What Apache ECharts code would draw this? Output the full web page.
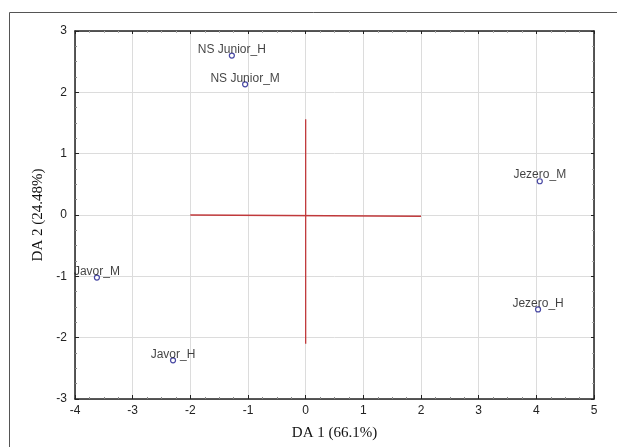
<!DOCTYPE html>
<html>
<head>
<meta charset="utf-8">
<script src="https://cdn.jsdelivr.net/npm/echarts@6/dist/echarts.min.js"></script>
<style>
  html, body { margin: 0; padding: 0; background: #fff; }
  #chart { width: 617px; height: 447px; }
</style>
</head>
<body>
<div id="chart"></div>
<script>
// sample names and their DA scores
var names = ['NS Junior_H', 'NS Junior_M', 'Jezero_M', 'Jezero_H', 'Javor_M', 'Javor_H']
var da1 = [-1.28, -1.05, 4.06, 4.03, -3.62, -2.30]
var da2 = [2.60, 2.13, 0.55, -1.54, -1.02, -2.37]

// red cross (centroid lines)
var hLine = [[-2, 0], [2, -0.02]]
var vLine = [[0, 1.56], [0, -2.10]]

var xTicks = { min: -4, max: 5, step: 1 }
var yTicks = { min: -3, max: 3, step: 1 }

var chart = echarts.init(document.getElementById('chart'))

var points = names.map(function (n, i) {
  return { name: n, value: [da1[i], da2[i]] }
})

var tickFont = { color: '#222', fontSize: 12, fontFamily: 'Liberation Sans, Arial, sans-serif' }
var titleFont = { color: '#111', fontSize: 15, fontFamily: 'Liberation Serif, Times New Roman, serif' }

var option = {
  backgroundColor: '#fff',
  animation: false,
  graphic: [
    {
      type: 'rect',
      shape: { x: 9.5, y: 12.5, width: 640, height: 480 },
      style: { fill: 'none', stroke: '#555', lineWidth: 1 },
      z: -1
    }
  ],
  grid: { left: 75, top: 31, right: 23, bottom: 48 },
  xAxis: [
    {
      type: 'value',
      min: xTicks.min,
      max: xTicks.max,
      interval: xTicks.step,
      name: 'DA 1 (66.1%)',
      nameLocation: 'middle',
      nameGap: 27,
      nameTextStyle: titleFont,
      axisLine: { onZero: false, lineStyle: { color: '#222', width: 1.5 } },
      axisTick: { inside: true, length: 4, lineStyle: { color: '#222' } },
      minorTick: { show: true, splitNumber: 4, length: 2, lineStyle: { color: '#888' } },
      axisLabel: Object.assign({ margin: 6 }, tickFont),
      splitLine: { show: true, lineStyle: { color: '#dcdcdc', width: 1 } }
    },
    {
      type: 'value',
      position: 'top',
      min: xTicks.min,
      max: xTicks.max,
      interval: xTicks.step,
      axisLine: { onZero: false, lineStyle: { color: '#222', width: 1.5 } },
      axisTick: { inside: true, length: 3, lineStyle: { color: '#222' } },
      minorTick: { show: true, splitNumber: 4, length: 2, lineStyle: { color: '#aaa' } },
      axisLabel: { show: false },
      splitLine: { show: false }
    }
  ],
  yAxis: [
    {
      type: 'value',
      min: yTicks.min,
      max: yTicks.max,
      interval: yTicks.step,
      name: 'DA 2 (24.48%)',
      nameLocation: 'middle',
      nameGap: 27,
      nameTextStyle: titleFont,
      axisLine: { show: true, onZero: false, lineStyle: { color: '#222', width: 1.5 } },
      axisTick: { show: true, inside: true, length: 4, lineStyle: { color: '#222' } },
      minorTick: { show: true, splitNumber: 4, length: 2, lineStyle: { color: '#888' } },
      axisLabel: Object.assign({ margin: 8 }, tickFont),
      splitLine: { show: true, lineStyle: { color: '#dcdcdc', width: 1 } }
    },
    {
      type: 'value',
      position: 'right',
      min: yTicks.min,
      max: yTicks.max,
      interval: yTicks.step,
      axisLine: { show: true, onZero: false, lineStyle: { color: '#222', width: 1.5 } },
      axisTick: { show: true, inside: true, length: 3, lineStyle: { color: '#222' } },
      minorTick: { show: true, splitNumber: 4, length: 2, lineStyle: { color: '#aaa' } },
      axisLabel: { show: false },
      splitLine: { show: false }
    }
  ],
  series: [
    {
      type: 'line',
      data: hLine,
      symbol: 'none',
      lineStyle: { color: '#c0393b', width: 1.3 },
      z: 3
    },
    {
      type: 'line',
      data: vLine,
      symbol: 'none',
      lineStyle: { color: '#c0393b', width: 1.3 },
      z: 3
    },
    {
      type: 'scatter',
      data: points,
      symbol: 'circle',
      symbolSize: 5,
      itemStyle: { color: '#fff', borderColor: '#1a1a8c', borderWidth: 1.2 },
      label: {
        show: true,
        position: 'top',
        distance: -3,
        formatter: function (p) { return p.name },
        color: '#111',
        fontSize: 12,
        fontFamily: 'Liberation Sans, Arial, sans-serif'
      },
      z: 4
    }
  ]
}

chart.setOption(option)
</script>
</body>
</html>
